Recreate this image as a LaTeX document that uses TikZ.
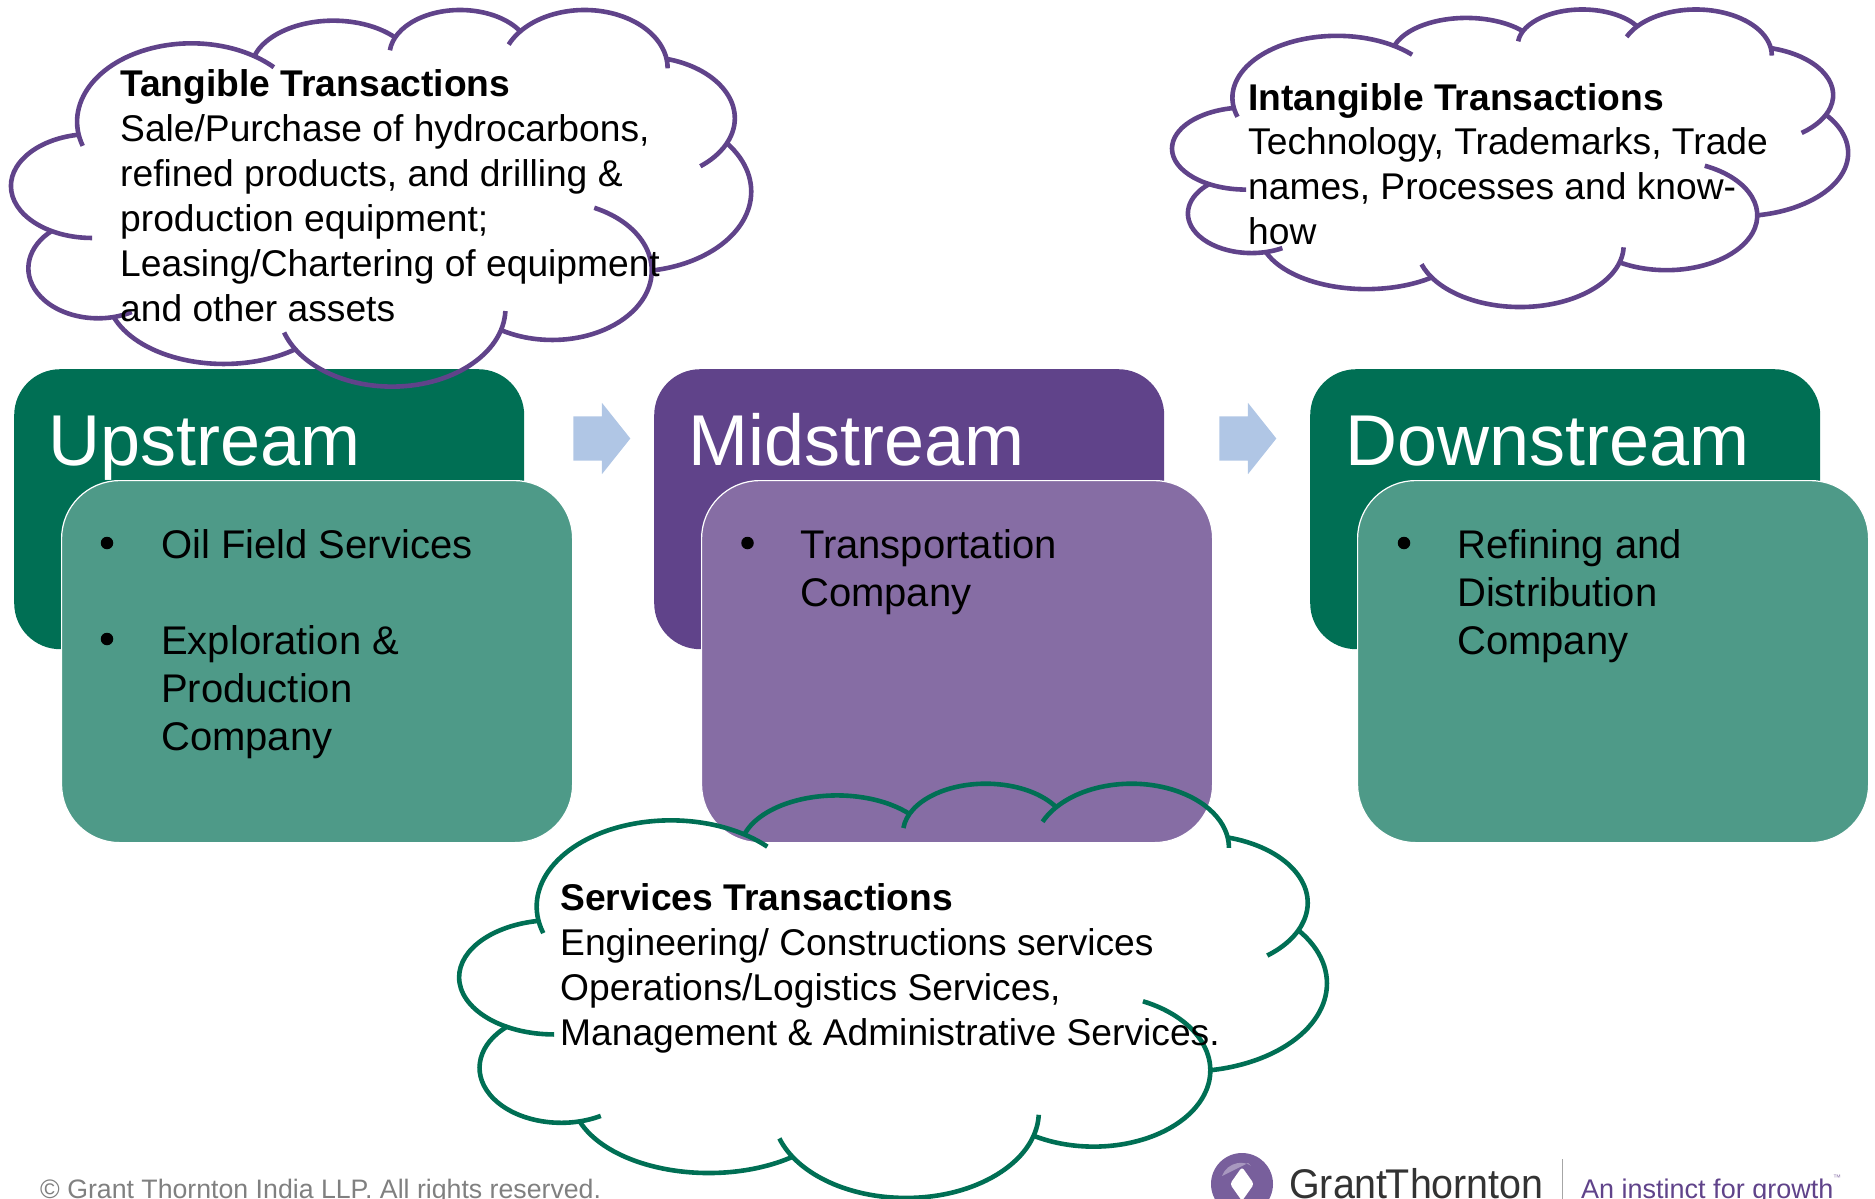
\documentclass[tikz,border=0pt]{standalone}
\usepackage{fontspec}
\setmainfont{Liberation Sans}
\usetikzlibrary{positioning,shapes.arrows}
\definecolor{darkgreen}{HTML}{006F54}
\definecolor{lightgreen}{HTML}{4E9A88}
\definecolor{darkpurple}{HTML}{60438A}
\definecolor{lightpurple}{HTML}{866DA4}
\definecolor{paleblue}{HTML}{B0C6E5}
\newcommand{\lobe}[5]{
  \draw [cloudline,shift={(#1)}] (#4:#2 and #3) arc [start angle=#4,end angle=#5,x radius=#2,y radius=#3];
}
\newcommand{\cloudarcs}{
  \lobe{185,558}{163}{156}{90}{261}
  \lobe{385,365}{230}{235}{162}{316}
  \lobe{670,212}{166}{150}{198}{319}
  \lobe{925,165}{142}{135}{186}{328}
  \lobe{1175,205}{167}{175}{204}{360}
  \lobe{1290,355}{187}{185}{285}{411}
  \lobe{1270,575}{240}{240}{-37}{80}
  \lobe{1110,812}{200}{208}{-65}{122}
  \lobe{788,925}{228}{235}{2}{162}
  \lobe{450,880}{235}{212}{53}{161}
  \lobe{197,805}{140}{150}{61}{229}
}

\begin{document}
\begin{tikzpicture}[
  x=1pt,
  y=-1pt,
  backbox/.style={anchor=north west,rounded corners=46pt,minimum width=510pt,minimum height=280pt,inner sep=0pt},
  frontbox/.style={anchor=north west,rounded corners=58pt,minimum width=511pt,minimum height=362pt,inner sep=0pt,draw=white,line width=1.2pt},
  stagearrow/.style={single arrow,fill=paleblue,inner xsep=0pt,inner ysep=22pt,minimum height=57pt,
    single arrow head extend=13.5pt,single arrow tip angle=103,single arrow head indent=0pt},
  title/.style={anchor=base west,inner sep=0pt,text=white,font=\fontsize{72}{72}\selectfont},
  item/.style={anchor=north west,inner sep=0pt,align=left,font=\fontsize{40}{48}\selectfont},
  dot/.style={circle,fill=black,inner sep=0pt,minimum size=12.5pt},
  cloudtext/.style={anchor=north west,inner sep=0pt,align=left,font=\fontsize{37.2}{45}\selectfont},
  cloudline/.style={draw=cloudcolor,line width=4.6pt},
  ]
  \useasboundingbox (0,0) rectangle (1875,1199);

  \node [backbox,fill=darkgreen] (up-back) at (14,369) {};
  \node [backbox,fill=darkpurple] (mid-back) at (654,369) {};
  \node [backbox,fill=darkgreen] (down-back) at (1310,369) {};
  \node [title] (up-title) at (48,465) {Upstream};
  \node [title] (mid-title) at (688,465) {Midstream};
  \node [title] (down-title) at (1345,465) {Downstream};
  \node [frontbox,fill=lightgreen] (up-front) at (61,480) {};
  \node [frontbox,fill=lightpurple] (mid-front) at (701,480) {};
  \node [frontbox,fill=lightgreen] (down-front) at (1357,480) {};

  \node [stagearrow] (arrow-one) at (593,438.5) {};
  \node [stagearrow] (arrow-two) at (1239,438.5) {};

  \node [dot] (up-dot1) at (107,543) {};
  \node [item] (up-oil) at (161,529.5) {Oil Field Services};
  \node [dot] (up-dot2) at (107,639) {};
  \node [item] (up-exp) at (161,625.5) {Exploration \&\\Production\\Company};
  \node [dot] (mid-dot) at (747.5,543) {};
  \node [item] (mid-trans) at (800,529.5) {Transportation\\Company};
  \node [dot] (down-dot) at (1404,543) {};
  \node [item] (down-ref) at (1457,529.5) {Refining and\\Distribution\\Company};

  \colorlet{cloudcolor}{darkpurple}
  \begin{scope}[shift={(0,0)},x=0.4975pt,y=-0.3333pt]
    \cloudarcs
  \end{scope}
  \begin{scope}[shift={(1162,1.6)},x=0.4544pt,y=-0.2633pt]
    \cloudarcs
  \end{scope}
  \colorlet{cloudcolor}{darkgreen}
  \begin{scope}[shift={(446.3,772.7)},x=0.5832pt,y=-0.3666pt]
    \cloudarcs
  \end{scope}

  \node [cloudtext] (tangible) at (120,69) {\textbf{Tangible Transactions}\\Sale/Purchase of hydrocarbons,\\refined products, and drilling \&\\production equipment;\\Leasing/Chartering of equipment\\and other assets};
  \node [cloudtext] (intangible) at (1248,83) {\textbf{Intangible Transactions}\\[-.3pt]Technology, Trademarks, Trade\\[-.3pt]names, Processes and know-\\[-.3pt]how};
  \node [cloudtext] (services) at (560,883) {\textbf{Services Transactions}\\Engineering/ Constructions services\\Operations/Logistics Services,\\Management \& Administrative Services.};

  \node [anchor=base west,inner sep=0pt,text=gray,font=\fontsize{26.7}{26.7}\selectfont] (copyright) at (40,1198) {© Grant Thornton India LLP. All rights reserved.};

  \fill [darkpurple!85] (1242,1184) ellipse [x radius=31,y radius=31];
  \fill [darkpurple!55] (1222,1176) arc [start angle=200,end angle=300,radius=20] -- (1248,1163) -- cycle;
  \fill [white,rounded corners=3pt] (1230,1184) -- (1242,1167) -- (1254,1184) -- (1242,1201) -- cycle;
  \node [anchor=base west,inner sep=0pt,text=black!80,font=\fontsize{41.5}{41.5}\selectfont,xscale=0.95] (logo-name) at (1289,1198) {Grant\kern-2ptThornton};
  \draw [gray!70,line width=1pt] (1562,1159) -- (1562,1199);
  \node [anchor=base west,inner sep=0pt,text=darkpurple,font=\fontsize{27}{27}\selectfont] (logo-tag) at (1581,1198) {An instinct for growth};
  \node [anchor=west,inner sep=0pt,text=darkpurple!70,font=\fontsize{8}{8}\selectfont] (logo-tm) at (1833,1178) {™};
\end{tikzpicture}
\end{document}
